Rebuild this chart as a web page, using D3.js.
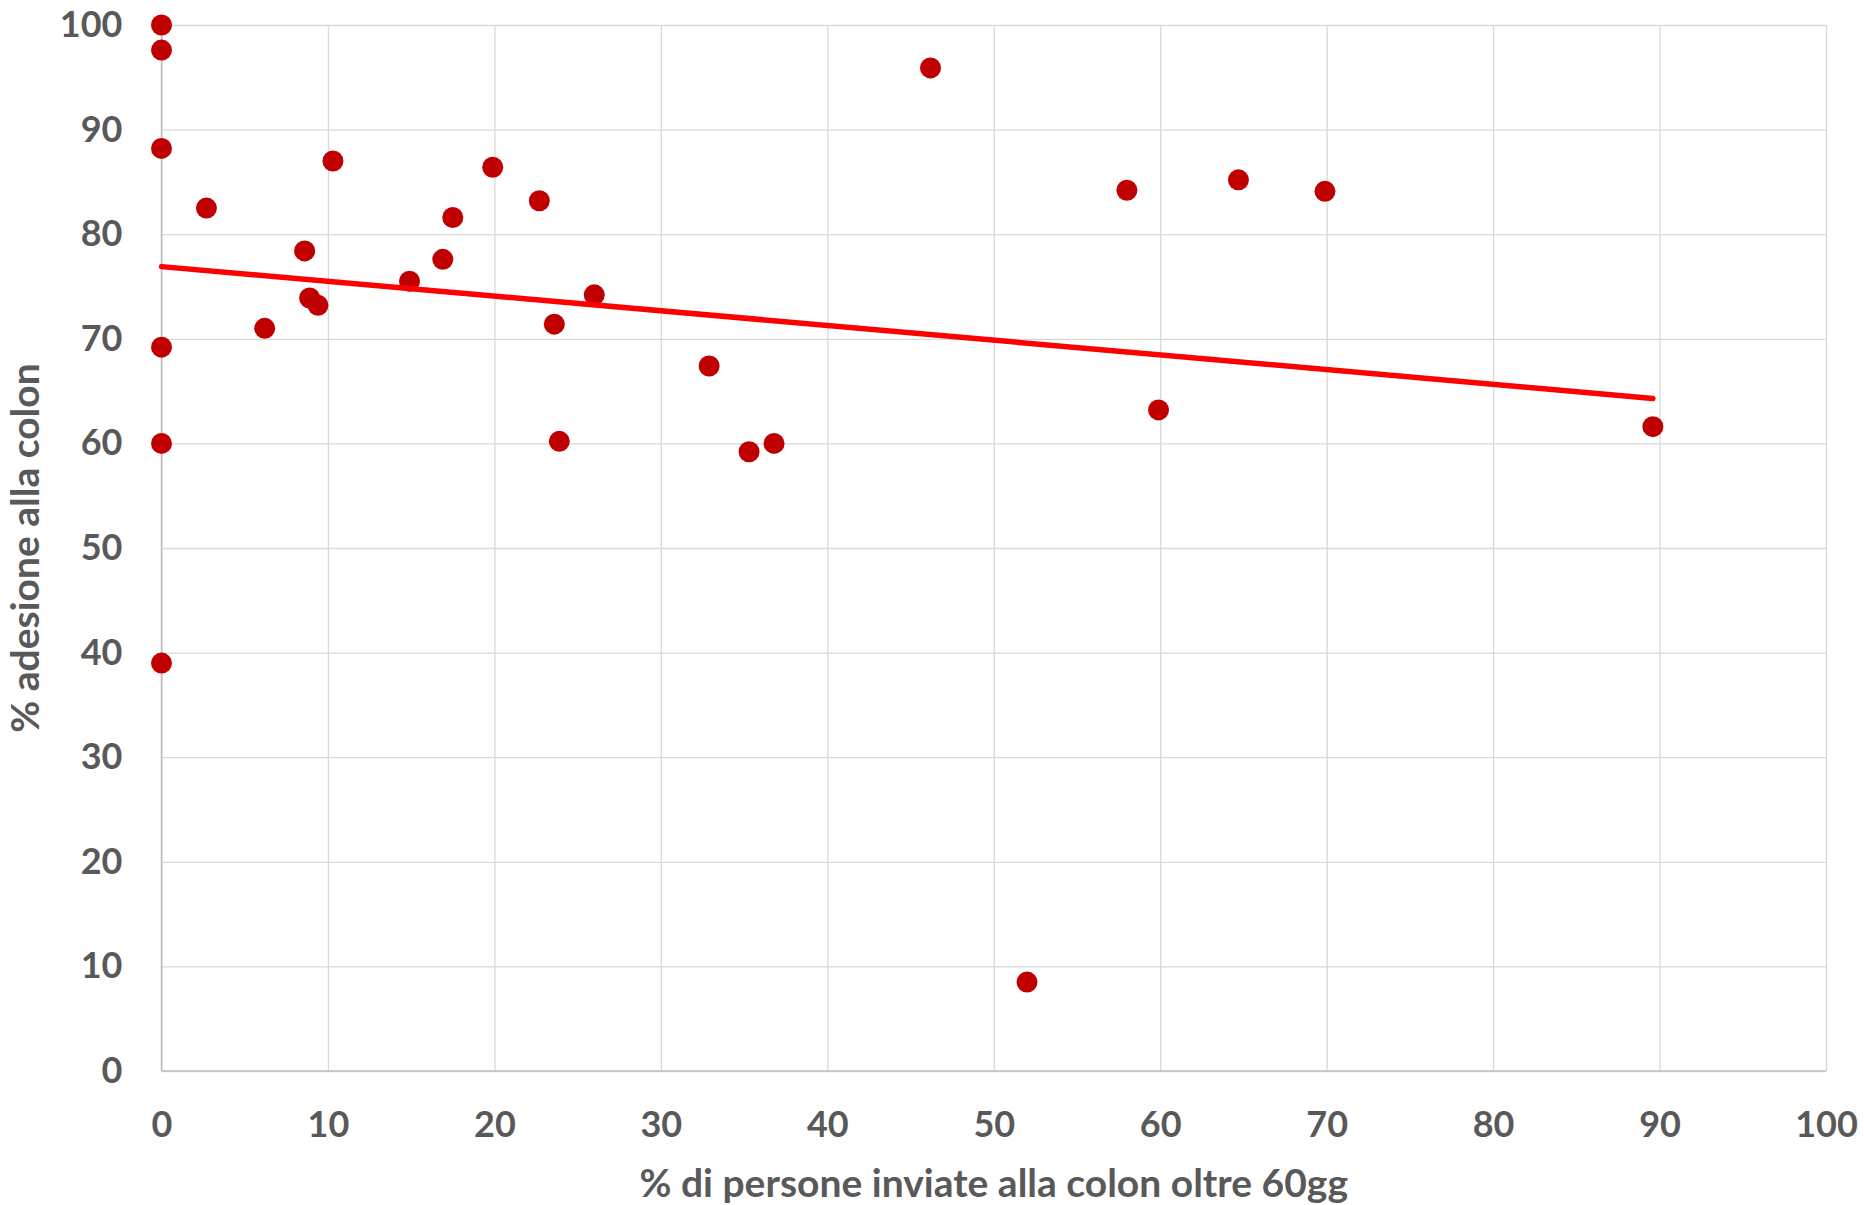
<!DOCTYPE html>
<html>
<head>
<meta charset="utf-8">
<script src="https://cdn.jsdelivr.net/npm/d3@7"></script>
<style>
  html, body { margin: 0; padding: 0; background: #fff; }
  svg { display: block; }
  text { font-family: Lato, "Open Sans", sans-serif; }
</style>
</head>
<body>
<svg id="chart" width="1864" height="1205"></svg>
<script>
// % di persone inviate alla colon oltre 60gg
const xValues = [0, 0, 0, 0, 0, 0, 2.7, 6.2, 8.6, 8.9, 9.4, 10.3, 14.9, 16.9, 17.5, 19.9, 22.7, 23.6, 23.9, 26.0, 32.9, 35.3, 36.8, 46.2, 52.0, 58.0, 59.9, 64.7, 69.9, 89.6];
// % adesione alla colon
const yValues = [100, 97.6, 88.2, 69.2, 60, 39, 82.5, 71.0, 78.4, 73.9, 73.2, 87.0, 75.5, 77.6, 81.6, 86.4, 83.2, 71.4, 60.2, 74.2, 67.4, 59.2, 60, 95.9, 8.5, 84.2, 63.2, 85.2, 84.1, 61.6];
// linear trend line endpoints
const trendX = [0, 89.6];
const trendY = [76.9, 64.3];
const xTicks = [0, 10, 20, 30, 40, 50, 60, 70, 80, 90, 100];
const yTicks = [0, 10, 20, 30, 40, 50, 60, 70, 80, 90, 100];
const xTitle = "% di persone inviate alla colon oltre 60gg";
const yTitle = "% adesione alla colon";

const svg = d3.select("#chart");
const margin = {left: 161.5, top: 25, right: 1864 - 1826, bottom: 1205 - 1071};
const W = 1864 - margin.left - margin.right;
const H = 1205 - margin.top - margin.bottom;
const g = svg.append("g").attr("transform", `translate(${margin.left},${margin.top})`);

const x = d3.scaleLinear().domain([0, 100]).range([0, W]);
const y = d3.scaleLinear().domain([0, 100]).range([H, 0]);

const textColor = "#595959";
const gridColor = "#D9D9D9";

// x axis with vertical gridlines
const xAxis = g.append("g")
  .attr("transform", `translate(0,${H})`)
  .call(d3.axisBottom(x).tickValues(xTicks).tickSizeInner(-H).tickSizeOuter(0).tickPadding(40).tickFormat(d3.format("d")));
xAxis.select(".domain").remove();
xAxis.selectAll(".tick line").attr("stroke", gridColor).attr("stroke-width", 1.3);
xAxis.selectAll(".tick text").attr("fill", textColor).attr("font-size", 36).attr("font-weight", "bold");

// y axis with horizontal gridlines
const yAxis = g.append("g")
  .call(d3.axisLeft(y).tickValues(yTicks).tickSizeInner(-W).tickSizeOuter(0).tickPadding(39).tickFormat(d3.format("d")));
yAxis.select(".domain").remove();
yAxis.selectAll(".tick line").attr("stroke", gridColor).attr("stroke-width", 1.3);
yAxis.selectAll(".tick text").attr("fill", textColor).attr("font-size", 36).attr("font-weight", "bold");

// axis lines
g.append("line").attr("x1", x(0)).attr("x2", x(100)).attr("y1", y(0)).attr("y2", y(0))
  .attr("stroke", "#BFBFBF").attr("stroke-width", 1.5);
g.append("line").attr("x1", x(0)).attr("x2", x(0)).attr("y1", y(0)).attr("y2", y(100))
  .attr("stroke", "#BFBFBF").attr("stroke-width", 1.5);

// points
const pts = xValues.map((v, i) => ({x: v, y: yValues[i]}));
g.append("g").selectAll("circle").data(pts).join("circle")
  .attr("cx", d => x(d.x)).attr("cy", d => y(d.y)).attr("r", 10.5)
  .attr("fill", "#C00000");

// trend line
const trend = trendX.map((v, i) => [v, trendY[i]]);
g.append("path").datum(trend)
  .attr("d", d3.line().x(d => x(d[0])).y(d => y(d[1])))
  .attr("fill", "none").attr("stroke", "#FF0000").attr("stroke-width", 5.5).attr("stroke-linecap", "round");

// axis titles
svg.append("text")
  .attr("x", margin.left + W / 2).attr("y", 1197)
  .attr("text-anchor", "middle").attr("fill", textColor)
  .attr("font-size", 39).attr("font-weight", "bold").text(xTitle);
svg.append("text")
  .attr("transform", `translate(39,${margin.top + H / 2}) rotate(-90)`)
  .attr("text-anchor", "middle").attr("fill", textColor)
  .attr("font-size", 39).attr("font-weight", "bold").text(yTitle);
</script>
</body>
</html>
